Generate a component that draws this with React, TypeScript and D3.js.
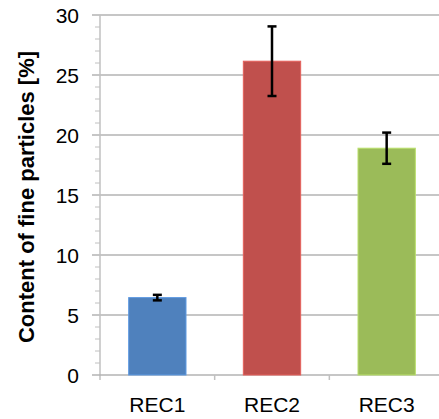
import React from "react";
import * as d3 from "d3";

const categories = ["REC1", "REC2", "REC3"];
const values = [6.45, 26.15, 18.9];
const errors = [0.23, 2.9, 1.3];
const colors = ["#4f81bd", "#c0504d", "#9bbb59"];
const yTicks = [0, 5, 10, 15, 20, 25, 30];
const yMinor = d3.range(0, 31, 1);

export default function App() {
  const W = 439, H = 419;
  const left = 100, right = 444, top = 15, bottom = 375;
  const y = d3.scaleLinear().domain([0, 30]).range([bottom, top]);
  const x = d3.scaleBand().domain(categories).range([left, right]).paddingInner(0.5).paddingOuter(0.25);
  const xb = d3.scaleBand().domain(categories).range([left, right]);
  const font = "Liberation Sans, Arial, sans-serif";
  return (
    <svg width={W} height={H} style={{ position: "absolute", left: 0, top: 0 }}>
      <rect width={W} height={H} fill="#fff" />
      {yTicks.filter(t => t > 0).map(t => (
        <line key={"g" + t} x1={left - 8} x2={right} y1={y(t)} y2={y(t)} stroke="#b3b3b3" strokeWidth={1.5} />
      ))}
      {yMinor.filter(t => t % 5 !== 0).map(t => (
        <line key={"m" + t} x1={left - 5} x2={left} y1={y(t)} y2={y(t)} stroke="#c0c0c0" strokeWidth={1} />
      ))}
      <line x1={left} x2={left} y1={top} y2={bottom + 5} stroke="#c0c0c0" strokeWidth={1.5} />
      <line x1={left - 8} x2={right} y1={bottom} y2={bottom} stroke="#b3b3b3" strokeWidth={1.5} />
      {categories.map(c => (
        <line key={"xt" + c} x1={(xb(c) as number) + xb.bandwidth()} x2={(xb(c) as number) + xb.bandwidth()} y1={bottom} y2={bottom + 5} stroke="#c0c0c0" strokeWidth={1.5} />
      ))}
      {categories.map((c, i) => (
        <rect key={"b" + c} x={x(c)} y={y(values[i])} width={x.bandwidth()} height={bottom - y(values[i])} fill={colors[i]} stroke={d3.color(colors[i])!.brighter(0.5).toString()} strokeWidth={1} />
      ))}
      {categories.map((c, i) => {
        const cx = (x(c) as number) + x.bandwidth() / 2;
        const y1 = y(values[i] + errors[i]);
        const y2 = y(values[i] - errors[i]);
        return (
          <g key={"e" + c} stroke="#000" strokeWidth={2.5}>
            <line x1={cx} x2={cx} y1={y1} y2={y2} />
            <line x1={cx - 4.5} x2={cx + 4.5} y1={y1} y2={y1} />
            <line x1={cx - 4.5} x2={cx + 4.5} y1={y2} y2={y2} />
          </g>
        );
      })}
      {yTicks.map(t => (
        <text key={"yl" + t} x={79} y={y(t)} dy="0.36em" textAnchor="end" fontFamily={font} fontSize={21} fill="#000">{t}</text>
      ))}
      {categories.map(c => (
        <text key={"xl" + c} x={(x(c) as number) + x.bandwidth() / 2} y={412} textAnchor="middle" fontFamily={font} fontSize={21} fill="#000">{c}</text>
      ))}
      <text transform={`translate(34,197) rotate(-90)`} textAnchor="middle" fontFamily={font} fontSize={22} fontWeight="bold" fill="#000">Content of fine particles [%]</text>
    </svg>
  );
}
